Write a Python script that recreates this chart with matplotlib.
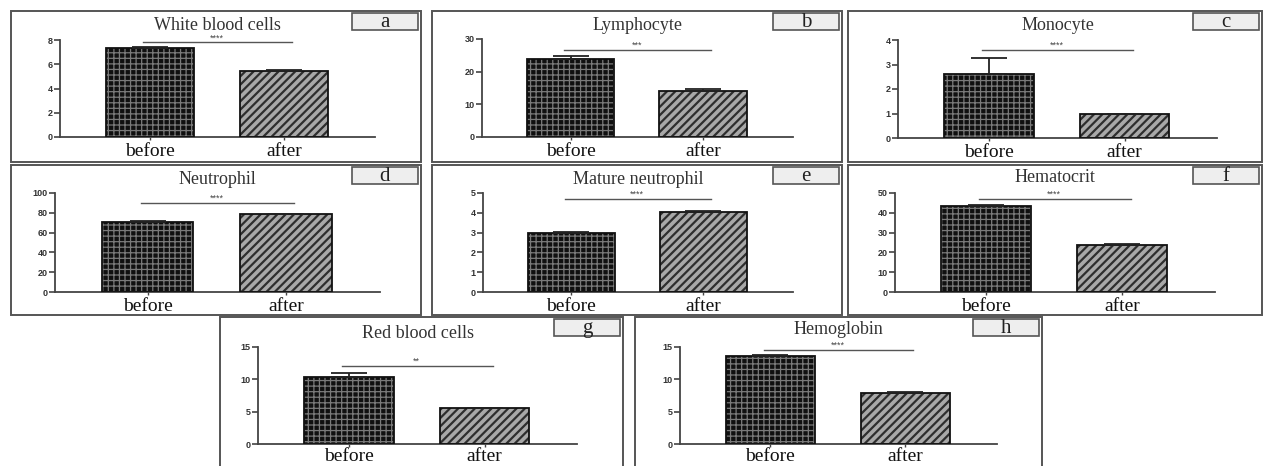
import matplotlib
matplotlib.use("Agg")
import matplotlib.pyplot as plt
from matplotlib.patches import Rectangle

# data (means, upward SEM bars)
conditions = ["before", "after"]
panel_titles = ["White blood cells", "Lymphocyte", "Monocyte", "Neutrophil",
                "Mature neutrophil", "Hematocrit", "Red blood cells", "Hemoglobin"]
panel_letters = ["a", "b", "c", "d", "e", "f", "g", "h"]
before_means = [7.3, 23.8, 2.62, 70.4, 2.98, 43.3, 10.3, 13.6]
before_errs = [0.12, 1.1, 0.63, 1.5, 0.03, 0.8, 0.7, 0.2]
after_means = [5.45, 14.1, 0.98, 78.8, 4.02, 23.9, 5.5, 7.93]
after_errs = [0.1, 0.7, 0.02, 0.3, 0.08, 0.15, 0.05, 0.05]
y_max = [8, 30, 4, 100, 5, 50, 15, 15]
y_step = [2, 10, 1, 20, 1, 10, 5, 5]
sig_labels = ["****", "***", "****", "****", "****", "****", "**", "****"]
sig_heights = [7.8, 26.7, 3.6, 90, 4.7, 47, 12.1, 14.6]

W, H = 1265, 466

# layout in pixels: (left, top, right, bottom)
panel_px = [(11, 11, 421, 162), (432, 11, 842, 162), (848, 11, 1262, 162),
            (11, 165, 421, 315), (432, 165, 842, 315), (848, 165, 1262, 315),
            (220, 317, 623, 475), (635, 317, 1042, 475)]
axes_px = [(60, 40, 375, 137), (482, 39, 793, 137), (898, 40, 1217, 138),
           (55, 193, 380, 292), (483, 193, 793, 292), (895, 193, 1215, 292),
           (258, 347, 577, 444), (680, 347, 997, 444)]
title_dy = [14, 14, 15, 15, 14, 13, 17, 12]


def fig_rect(l, t, r, b):
    return [l / W, 1 - b / H, (r - l) / W, (b - t) / H]


def hatched_bar(ax, x, h, face, hatch, hcolor, hlw):
    with plt.rc_context({"hatch.linewidth": hlw}):
        bars = ax.bar(x, h, width=0.66, color=face, edgecolor=hcolor,
                      hatch=hatch, linewidth=0, zorder=2)
    for b in bars:
        if hasattr(b, "set_hatch_linewidth"):
            b.set_hatch_linewidth(hlw)
    ax.bar(x, h, width=0.66, fill=False, edgecolor="#111111", linewidth=1.3, zorder=3)


fig = plt.figure(figsize=(W / 100, H / 100), dpi=100)
fig.patch.set_facecolor("white")

serif = ["Liberation Serif", "DejaVu Serif"]
sans = ["Liberation Sans", "DejaVu Sans"]

for i in range(8):
    pl, pt, pr, pb = panel_px[i]
    # panel frame
    fig.patches.append(Rectangle((pl / W, 1 - pb / H), (pr - pl) / W, (pb - pt) / H,
                                 transform=fig.transFigure, fill=False,
                                 edgecolor="#555555", linewidth=1.4))
    # letter box
    bx0, by0, bx1, by1 = pr - 69, pt + 2, pr - 3, pt + 19
    fig.patches.append(Rectangle((bx0 / W, 1 - by1 / H), (bx1 - bx0) / W, (by1 - by0) / H,
                                 transform=fig.transFigure, facecolor="#eeeeee",
                                 edgecolor="#555555", linewidth=1.2))
    fig.text((bx0 + bx1) / 2 / W, 1 - (by0 + by1 + 2) / 2 / H, panel_letters[i],
             ha="center", va="center", fontsize=15, family=serif, color="#222222")

    ax = fig.add_axes(fig_rect(*axes_px[i]))
    hatched_bar(ax, 0, before_means[i], "#101010", "+++", "#7a7a7a", 0.9)
    hatched_bar(ax, 1, after_means[i], "#a8a8a8", "////", "#2e2e2e", 1.6)
    ax.errorbar([0, 1], [before_means[i], after_means[i]],
                yerr=[[0, 0], [before_errs[i], after_errs[i]]],
                fmt="none", ecolor="#222222", elinewidth=1.3, capsize=13,
                capthick=1.3, zorder=4)

    ax.set_xlim(-0.67, 1.68)
    ax.set_ylim(0, y_max[i])
    ax.set_yticks(range(0, y_max[i] + 1, y_step[i]))
    ax.set_xticks([0, 1])
    ax.set_xticklabels(conditions, fontsize=14, family=serif, color="#111111")
    for lab in ax.get_yticklabels():
        lab.set_fontsize(6.5)
        lab.set_fontweight("bold")
        lab.set_family(sans)
        lab.set_color("#333333")
    ax.tick_params(axis="y", length=4, width=1.2, color="#444444", pad=1.5)
    ax.tick_params(axis="x", length=2.5, width=1.0, color="#444444",
                   pad=0.5 if i >= 6 else 2)
    for s in ["top", "right"]:
        ax.spines[s].set_visible(False)
    for s in ["left", "bottom"]:
        ax.spines[s].set_color("#444444")
        ax.spines[s].set_linewidth(1.3)
    ax.set_facecolor("none")

    # significance bar
    ax.plot([-0.05, 1.06], [sig_heights[i], sig_heights[i]], color="#555555",
            linewidth=1.0, clip_on=False, zorder=5)
    ax.text(0.5, sig_heights[i], sig_labels[i], ha="center", va="bottom",
            fontsize=6.5, color="#444444", family=sans)

    # panel title
    fig.text((axes_px[i][0] + axes_px[i][2]) / 2 / W, 1 - (pt + title_dy[i]) / H,
             panel_titles[i], ha="center", va="center", fontsize=13,
             family=serif, color="#333333")

fig.savefig("out.png", dpi=100)
